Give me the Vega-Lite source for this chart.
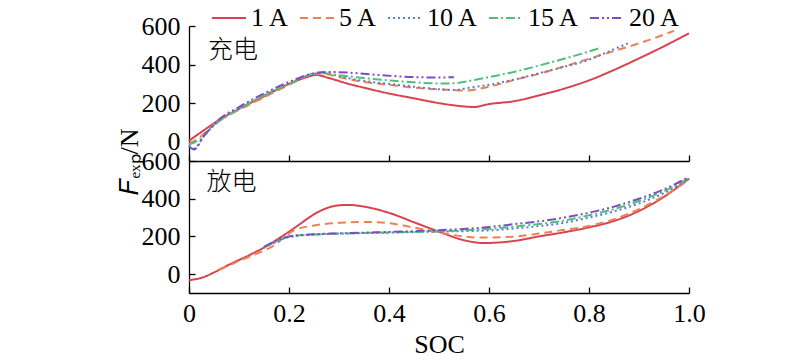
{
  "$schema": "https://vega.github.io/schema/vega-lite/v6.json",
  "background": "white",
  "padding": {"left": 116, "top": 0, "right": 5, "bottom": 0},
  "bounds": "flush",
  "config": {
    "view": {"stroke": null},
    "font": "Liberation Serif",
    "axis": {
      "grid": false,
      "domainColor": "black",
      "tickColor": "black",
      "labelColor": "black",
      "titleColor": "black",
      "labelFont": "Liberation Serif",
      "titleFont": "Liberation Serif",
      "labelFontSize": 26,
      "titleFontSize": 26,
      "titleFontWeight": "normal",
      "tickSize": -6,
      "domainWidth": 1.3,
      "tickWidth": 1.3,
      "labelPadding": 15
    },
    "legend": {
      "orient": "none",
      "direction": "horizontal",
      "legendX": 22,
      "legendY": -26,
      "symbolType": "stroke",
      "symbolSize": 1156,
      "symbolStrokeWidth": 2,
      "labelFont": "Liberation Serif",
      "labelFontSize": 26,
      "labelColor": "black",
      "labelOffset": 4,
      "columnPadding": 6,
      "title": null
    }
  },
  "datasets": {
    "charge": [
      {"I": "1 A", "soc": 0, "F": 5}, {"I": "1 A", "soc": 0.03, "F": 60}, {"I": "1 A", "soc": 0.06, "F": 113}, {"I": "1 A", "soc": 0.1, "F": 170}, {"I": "1 A", "soc": 0.15, "F": 235}, {"I": "1 A", "soc": 0.2, "F": 300}, {"I": "1 A", "soc": 0.23, "F": 330}, {"I": "1 A", "soc": 0.255, "F": 346}, {"I": "1 A", "soc": 0.28, "F": 330}, {"I": "1 A", "soc": 0.315, "F": 303}, {"I": "1 A", "soc": 0.35, "F": 280}, {"I": "1 A", "soc": 0.4, "F": 250}, {"I": "1 A", "soc": 0.45, "F": 225}, {"I": "1 A", "soc": 0.5, "F": 200}, {"I": "1 A", "soc": 0.55, "F": 183}, {"I": "1 A", "soc": 0.57, "F": 180}, {"I": "1 A", "soc": 0.6, "F": 195}, {"I": "1 A", "soc": 0.65, "F": 210}, {"I": "1 A", "soc": 0.7, "F": 240}, {"I": "1 A", "soc": 0.75, "F": 275}, {"I": "1 A", "soc": 0.8, "F": 318}, {"I": "1 A", "soc": 0.85, "F": 372}, {"I": "1 A", "soc": 0.9, "F": 432}, {"I": "1 A", "soc": 0.95, "F": 495}, {"I": "1 A", "soc": 1.0, "F": 562},
      {"I": "5 A", "soc": 0, "F": -10}, {"I": "5 A", "soc": 0.02, "F": 20}, {"I": "5 A", "soc": 0.05, "F": 90}, {"I": "5 A", "soc": 0.1, "F": 165}, {"I": "5 A", "soc": 0.15, "F": 230}, {"I": "5 A", "soc": 0.2, "F": 295}, {"I": "5 A", "soc": 0.25, "F": 350}, {"I": "5 A", "soc": 0.27, "F": 352}, {"I": "5 A", "soc": 0.3, "F": 335}, {"I": "5 A", "soc": 0.35, "F": 310}, {"I": "5 A", "soc": 0.4, "F": 295}, {"I": "5 A", "soc": 0.45, "F": 280}, {"I": "5 A", "soc": 0.5, "F": 272}, {"I": "5 A", "soc": 0.55, "F": 265}, {"I": "5 A", "soc": 0.6, "F": 285}, {"I": "5 A", "soc": 0.65, "F": 320}, {"I": "5 A", "soc": 0.7, "F": 352}, {"I": "5 A", "soc": 0.75, "F": 390}, {"I": "5 A", "soc": 0.8, "F": 430}, {"I": "5 A", "soc": 0.85, "F": 470}, {"I": "5 A", "soc": 0.9, "F": 510}, {"I": "5 A", "soc": 0.97, "F": 575},
      {"I": "10 A", "soc": 0, "F": -20}, {"I": "10 A", "soc": 0.01, "F": -35}, {"I": "10 A", "soc": 0.03, "F": 30}, {"I": "10 A", "soc": 0.06, "F": 110}, {"I": "10 A", "soc": 0.1, "F": 170}, {"I": "10 A", "soc": 0.15, "F": 240}, {"I": "10 A", "soc": 0.2, "F": 300}, {"I": "10 A", "soc": 0.25, "F": 352}, {"I": "10 A", "soc": 0.27, "F": 358}, {"I": "10 A", "soc": 0.3, "F": 340}, {"I": "10 A", "soc": 0.35, "F": 315}, {"I": "10 A", "soc": 0.4, "F": 300}, {"I": "10 A", "soc": 0.45, "F": 285}, {"I": "10 A", "soc": 0.5, "F": 272}, {"I": "10 A", "soc": 0.53, "F": 268}, {"I": "10 A", "soc": 0.56, "F": 280}, {"I": "10 A", "soc": 0.6, "F": 295}, {"I": "10 A", "soc": 0.65, "F": 322}, {"I": "10 A", "soc": 0.7, "F": 355}, {"I": "10 A", "soc": 0.75, "F": 388}, {"I": "10 A", "soc": 0.8, "F": 425}, {"I": "10 A", "soc": 0.85, "F": 480}, {"I": "10 A", "soc": 0.88, "F": 512},
      {"I": "15 A", "soc": 0, "F": -15}, {"I": "15 A", "soc": 0.02, "F": 10}, {"I": "15 A", "soc": 0.05, "F": 85}, {"I": "15 A", "soc": 0.1, "F": 170}, {"I": "15 A", "soc": 0.15, "F": 240}, {"I": "15 A", "soc": 0.2, "F": 300}, {"I": "15 A", "soc": 0.25, "F": 352}, {"I": "15 A", "soc": 0.27, "F": 355}, {"I": "15 A", "soc": 0.3, "F": 345}, {"I": "15 A", "soc": 0.35, "F": 330}, {"I": "15 A", "soc": 0.4, "F": 318}, {"I": "15 A", "soc": 0.45, "F": 308}, {"I": "15 A", "soc": 0.5, "F": 302}, {"I": "15 A", "soc": 0.53, "F": 303}, {"I": "15 A", "soc": 0.56, "F": 315}, {"I": "15 A", "soc": 0.6, "F": 335}, {"I": "15 A", "soc": 0.65, "F": 362}, {"I": "15 A", "soc": 0.7, "F": 395}, {"I": "15 A", "soc": 0.75, "F": 430}, {"I": "15 A", "soc": 0.8, "F": 468}, {"I": "15 A", "soc": 0.82, "F": 485},
      {"I": "20 A", "soc": 0, "F": -25}, {"I": "20 A", "soc": 0.01, "F": -40}, {"I": "20 A", "soc": 0.03, "F": 30}, {"I": "20 A", "soc": 0.06, "F": 115}, {"I": "20 A", "soc": 0.1, "F": 180}, {"I": "20 A", "soc": 0.15, "F": 250}, {"I": "20 A", "soc": 0.2, "F": 310}, {"I": "20 A", "soc": 0.25, "F": 355}, {"I": "20 A", "soc": 0.28, "F": 362}, {"I": "20 A", "soc": 0.32, "F": 358}, {"I": "20 A", "soc": 0.38, "F": 346}, {"I": "20 A", "soc": 0.45, "F": 335}, {"I": "20 A", "soc": 0.5, "F": 333}, {"I": "20 A", "soc": 0.53, "F": 335}
    ],
    "discharge": [
      {"I": "1 A", "soc": 0, "F": -32}, {"I": "1 A", "soc": 0.03, "F": -15}, {"I": "1 A", "soc": 0.05, "F": 9}, {"I": "1 A", "soc": 0.08, "F": 50}, {"I": "1 A", "soc": 0.12, "F": 100}, {"I": "1 A", "soc": 0.15, "F": 141}, {"I": "1 A", "soc": 0.18, "F": 190}, {"I": "1 A", "soc": 0.2, "F": 225}, {"I": "1 A", "soc": 0.22, "F": 262}, {"I": "1 A", "soc": 0.24, "F": 300}, {"I": "1 A", "soc": 0.26, "F": 332}, {"I": "1 A", "soc": 0.28, "F": 354}, {"I": "1 A", "soc": 0.3, "F": 365}, {"I": "1 A", "soc": 0.32, "F": 367}, {"I": "1 A", "soc": 0.35, "F": 358}, {"I": "1 A", "soc": 0.4, "F": 325}, {"I": "1 A", "soc": 0.45, "F": 275}, {"I": "1 A", "soc": 0.5, "F": 225}, {"I": "1 A", "soc": 0.55, "F": 180}, {"I": "1 A", "soc": 0.59, "F": 165}, {"I": "1 A", "soc": 0.65, "F": 176}, {"I": "1 A", "soc": 0.7, "F": 200}, {"I": "1 A", "soc": 0.75, "F": 222}, {"I": "1 A", "soc": 0.8, "F": 248}, {"I": "1 A", "soc": 0.85, "F": 282}, {"I": "1 A", "soc": 0.9, "F": 335}, {"I": "1 A", "soc": 0.95, "F": 410}, {"I": "1 A", "soc": 1.0, "F": 507},
      {"I": "5 A", "soc": 0.06, "F": 22}, {"I": "5 A", "soc": 0.1, "F": 70}, {"I": "5 A", "soc": 0.15, "F": 125}, {"I": "5 A", "soc": 0.17, "F": 152}, {"I": "5 A", "soc": 0.19, "F": 195}, {"I": "5 A", "soc": 0.21, "F": 232}, {"I": "5 A", "soc": 0.25, "F": 258}, {"I": "5 A", "soc": 0.3, "F": 272}, {"I": "5 A", "soc": 0.35, "F": 277}, {"I": "5 A", "soc": 0.4, "F": 270}, {"I": "5 A", "soc": 0.45, "F": 247}, {"I": "5 A", "soc": 0.5, "F": 220}, {"I": "5 A", "soc": 0.55, "F": 200}, {"I": "5 A", "soc": 0.58, "F": 194}, {"I": "5 A", "soc": 0.65, "F": 199}, {"I": "5 A", "soc": 0.7, "F": 215}, {"I": "5 A", "soc": 0.75, "F": 235}, {"I": "5 A", "soc": 0.8, "F": 255}, {"I": "5 A", "soc": 0.85, "F": 291}, {"I": "5 A", "soc": 0.9, "F": 345}, {"I": "5 A", "soc": 0.95, "F": 415}, {"I": "5 A", "soc": 1.0, "F": 500},
      {"I": "10 A", "soc": 0.15, "F": 140}, {"I": "10 A", "soc": 0.17, "F": 165}, {"I": "10 A", "soc": 0.2, "F": 197}, {"I": "10 A", "soc": 0.25, "F": 210}, {"I": "10 A", "soc": 0.3, "F": 215}, {"I": "10 A", "soc": 0.35, "F": 218}, {"I": "10 A", "soc": 0.4, "F": 220}, {"I": "10 A", "soc": 0.45, "F": 223}, {"I": "10 A", "soc": 0.5, "F": 226}, {"I": "10 A", "soc": 0.55, "F": 228}, {"I": "10 A", "soc": 0.6, "F": 232}, {"I": "10 A", "soc": 0.65, "F": 242}, {"I": "10 A", "soc": 0.7, "F": 255}, {"I": "10 A", "soc": 0.75, "F": 272}, {"I": "10 A", "soc": 0.8, "F": 300}, {"I": "10 A", "soc": 0.85, "F": 333}, {"I": "10 A", "soc": 0.9, "F": 375}, {"I": "10 A", "soc": 0.95, "F": 430}, {"I": "10 A", "soc": 1.0, "F": 505},
      {"I": "15 A", "soc": 0.15, "F": 140}, {"I": "15 A", "soc": 0.17, "F": 168}, {"I": "15 A", "soc": 0.2, "F": 198}, {"I": "15 A", "soc": 0.25, "F": 210}, {"I": "15 A", "soc": 0.3, "F": 215}, {"I": "15 A", "soc": 0.35, "F": 218}, {"I": "15 A", "soc": 0.4, "F": 221}, {"I": "15 A", "soc": 0.45, "F": 224}, {"I": "15 A", "soc": 0.5, "F": 228}, {"I": "15 A", "soc": 0.55, "F": 232}, {"I": "15 A", "soc": 0.6, "F": 240}, {"I": "15 A", "soc": 0.65, "F": 252}, {"I": "15 A", "soc": 0.7, "F": 266}, {"I": "15 A", "soc": 0.75, "F": 284}, {"I": "15 A", "soc": 0.8, "F": 312}, {"I": "15 A", "soc": 0.85, "F": 345}, {"I": "15 A", "soc": 0.9, "F": 388}, {"I": "15 A", "soc": 0.95, "F": 440}, {"I": "15 A", "soc": 1.0, "F": 510},
      {"I": "20 A", "soc": 0.15, "F": 145}, {"I": "20 A", "soc": 0.17, "F": 172}, {"I": "20 A", "soc": 0.2, "F": 200}, {"I": "20 A", "soc": 0.25, "F": 212}, {"I": "20 A", "soc": 0.3, "F": 216}, {"I": "20 A", "soc": 0.35, "F": 220}, {"I": "20 A", "soc": 0.4, "F": 224}, {"I": "20 A", "soc": 0.45, "F": 228}, {"I": "20 A", "soc": 0.5, "F": 233}, {"I": "20 A", "soc": 0.55, "F": 240}, {"I": "20 A", "soc": 0.6, "F": 250}, {"I": "20 A", "soc": 0.65, "F": 265}, {"I": "20 A", "soc": 0.7, "F": 280}, {"I": "20 A", "soc": 0.75, "F": 300}, {"I": "20 A", "soc": 0.8, "F": 326}, {"I": "20 A", "soc": 0.85, "F": 358}, {"I": "20 A", "soc": 0.9, "F": 400}, {"I": "20 A", "soc": 0.95, "F": 450}, {"I": "20 A", "soc": 1.0, "F": 515}
    ]
  },
  "spacing": 0,
  "resolve": {"scale": {"color": "shared", "strokeDash": "shared"}},
  "vconcat": [
    {
      "width": 500,
      "height": 135,
      "layer": [
        {
          "data": {"name": "charge"},
          "mark": {"type": "line", "interpolate": "monotone", "strokeWidth": 2},
          "encoding": {
            "x": {"field": "soc", "type": "quantitative", "scale": {"domain": [0, 1], "nice": false, "zero": false},
                  "axis": {"values": [0, 0.2, 0.4, 0.6, 0.8, 1], "labels": false, "title": null}},
            "y": {"field": "F", "type": "quantitative", "scale": {"domain": [-100, 600], "nice": false, "zero": false},
                  "axis": {"values": [0, 200, 400, 600], "title": "𝐹ₑₓₚ/N", "titleY": 135, "titleX": -60, "titleAlign": "center", "titleBaseline": "middle"}},
            "color": {"field": "I", "type": "nominal",
                      "scale": {"domain": ["1 A", "5 A", "10 A", "15 A", "20 A"], "range": ["#d9434f", "#ee8055", "#5b7bd5", "#4fbf7c", "#7b4fc0"]}},
            "strokeDash": {"field": "I", "type": "nominal",
                           "scale": {"domain": ["1 A", "5 A", "10 A", "15 A", "20 A"], "range": [[1, 0], [8, 5], [2, 3], [9, 3, 2, 3], [9, 3, 2, 3, 2, 3]]}}
          }
        },
        {
          "data": {"values": [{"t": "充电"}]},
          "mark": {"type": "text", "align": "left", "baseline": "middle", "font": "Noto Sans CJK SC", "fontSize": 25, "fontWeight": 300, "color": "black"},
          "encoding": {"text": {"field": "t"}, "x": {"datum": 0.038}, "y": {"datum": 476}}
        }
      ]
    },
    {
      "width": 500,
      "height": 132,
      "layer": [
        {
          "data": {"name": "discharge"},
          "mark": {"type": "line", "interpolate": "monotone", "strokeWidth": 2},
          "encoding": {
            "x": {"field": "soc", "type": "quantitative", "scale": {"domain": [0, 1], "nice": false, "zero": false},
                  "axis": {"values": [0, 0.2, 0.4, 0.6, 0.8, 1], "title": "SOC", "labelExpr": "datum.value == 0 ? '0' : format(datum.value, '.1f')", "labelFlush": false, "labelPadding": 13, "titlePadding": 5}},
            "y": {"field": "F", "type": "quantitative", "scale": {"domain": [-100, 600], "nice": false, "zero": false},
                  "axis": {"values": [0, 200, 400, 600], "title": null}},
            "color": {"field": "I", "type": "nominal",
                      "scale": {"domain": ["1 A", "5 A", "10 A", "15 A", "20 A"], "range": ["#d9434f", "#ee8055", "#5b7bd5", "#4fbf7c", "#7b4fc0"]}},
            "strokeDash": {"field": "I", "type": "nominal",
                           "scale": {"domain": ["1 A", "5 A", "10 A", "15 A", "20 A"], "range": [[1, 0], [8, 5], [2, 3], [9, 3, 2, 3], [9, 3, 2, 3, 2, 3]]}}
          }
        },
        {
          "data": {"values": [{"t": "放电"}]},
          "mark": {"type": "text", "align": "left", "baseline": "middle", "font": "Noto Sans CJK SC", "fontSize": 25, "fontWeight": 300, "color": "black"},
          "encoding": {"text": {"field": "t"}, "x": {"datum": 0.035}, "y": {"datum": 487}}
        }
      ]
    }
  ]
}
